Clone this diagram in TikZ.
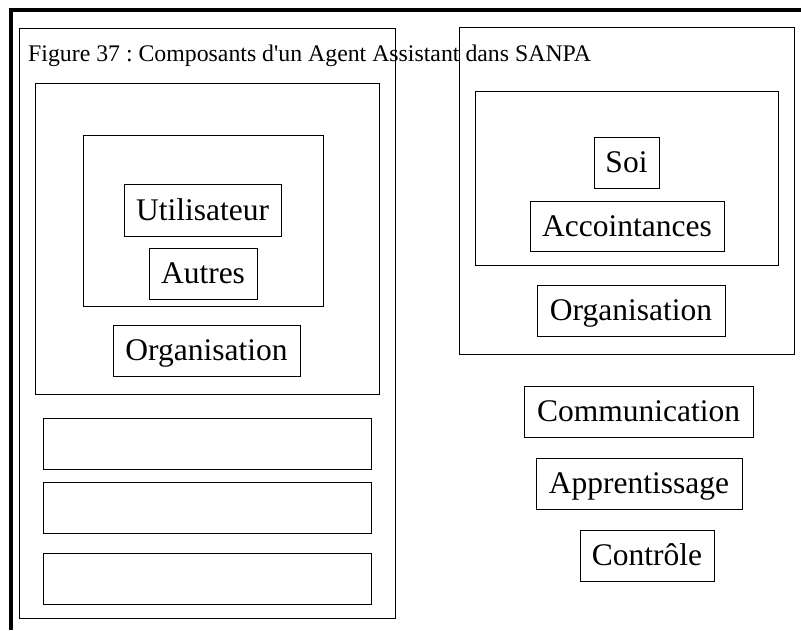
\documentclass[tikz,border=0pt]{standalone}
\usepackage{fontspec}
\setmainfont{Liberation Serif}
\newfontfamily\capfont{Liberation Serif}
\frenchspacing
\begin{document}
\begin{tikzpicture}[x=1pt,y=-1pt,
  frame/.style={draw=black,line width=1pt,inner sep=0pt,outer sep=0pt,rectangle},
  lbl/.style={frame,font=\fontsize{31.5}{36}\selectfont,text height=20.8pt,text depth=0pt,anchor=center},
  thick frame/.style={line width=3.7pt,line cap=butt}]
\useasboundingbox (0,0) rectangle (801,630);
% thick L frame
\coordinate (tr) at (801,10.2);
\coordinate (tl) at (9,10.2);
\coordinate (lt) at (10.8,8.4);
\coordinate (lb) at (10.8,630);
\draw[thick frame] (tl) -- (tr);
\draw[thick frame] (lt) -- (lb);
% left column
\node[frame,minimum width=376pt,minimum height=590pt] (outerL) at (207,323) {};
\node[frame,minimum width=344pt,minimum height=311pt] (contL) at (207,238.5) {};
\node[frame,minimum width=240pt,minimum height=171pt] (innerL) at (203,220.5) {};
\node[lbl,minimum width=157pt,minimum height=52pt] (util) at (202.5,210) {Utilisateur};
\node[lbl,minimum width=108pt,minimum height=51pt] (autres) at (203,273.5) {Autres};
\node[lbl,minimum width=187pt,minimum height=51pt] (orgL) at (206.5,350.5) {Organisation};
\node[frame,minimum width=328pt,minimum height=51pt] (b1) at (207,443.5) {};
\node[frame,minimum width=328pt,minimum height=51pt] (b2) at (207,507.5) {};
\node[frame,minimum width=328pt,minimum height=51pt] (b3) at (207,578.5) {};
% right column
\node[frame,minimum width=335pt,minimum height=327pt] (outerR) at (626.5,190.5) {};
\node[frame,minimum width=303pt,minimum height=174pt] (innerR) at (626.5,178) {};
\node[lbl,minimum width=65pt,minimum height=51pt] (soi) at (626.5,162.5) {Soi};
\node[lbl,minimum width=194pt,minimum height=50pt] (acc) at (627,226) {Accointances};
\node[lbl,minimum width=188pt,minimum height=51pt] (orgR) at (631,310.5) {Organisation};
\node[lbl,minimum width=229pt,minimum height=51pt] (comm) at (638.5,411.5) {Communication};
\node[lbl,minimum width=206pt,minimum height=51pt] (appr) at (639,483.5) {Apprentissage};
\node[lbl,minimum width=134pt,minimum height=51pt] (ctrl) at (647,555.5) {Contrôle};
% caption
\node[anchor=base west,inner sep=0pt,font=\capfont\fontsize{23.8}{28}\selectfont] (cap) at (28,61) {Figure 37 : Composants d'un Agent Assistant dans SANPA};
\end{tikzpicture}
\end{document}
